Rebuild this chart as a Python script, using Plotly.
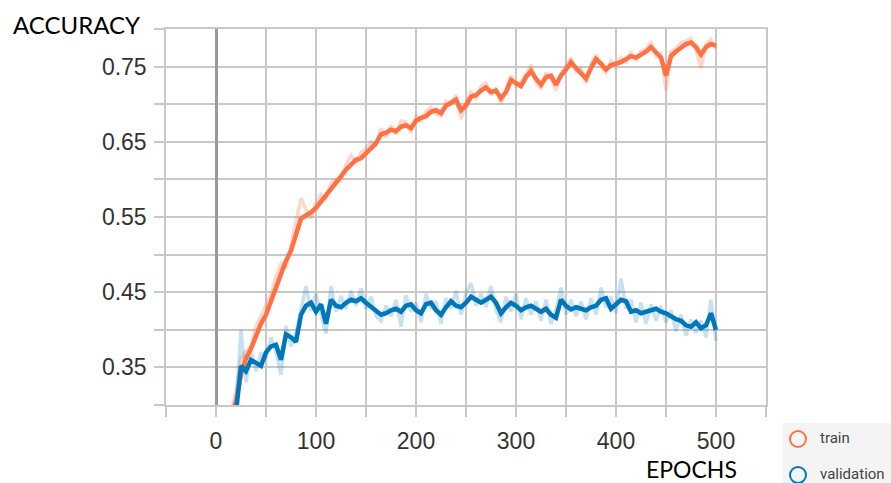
import plotly.graph_objects as go

# ---- data ----
train_epochs = list(range(15, 501, 5))
train_smooth = [0.285, 0.305, 0.340, 0.362, 0.375, 0.392, 0.408, 0.420, 0.438, 0.455,
                0.476, 0.492, 0.505, 0.525, 0.548, 0.552, 0.556, 0.562, 0.570, 0.578,
                0.586, 0.596, 0.604, 0.613, 0.620, 0.626, 0.628, 0.634, 0.642, 0.648,
                0.660, 0.662, 0.666, 0.664, 0.670, 0.672, 0.668, 0.678, 0.682, 0.684,
                0.690, 0.692, 0.688, 0.698, 0.702, 0.706, 0.692, 0.698, 0.710, 0.712,
                0.718, 0.722, 0.716, 0.718, 0.708, 0.716, 0.732, 0.728, 0.724, 0.736,
                0.744, 0.734, 0.726, 0.736, 0.738, 0.726, 0.738, 0.746, 0.756, 0.748,
                0.742, 0.734, 0.748, 0.760, 0.754, 0.746, 0.752, 0.754, 0.756, 0.760,
                0.764, 0.762, 0.766, 0.770, 0.776, 0.768, 0.762, 0.738, 0.764, 0.770,
                0.776, 0.780, 0.782, 0.776, 0.766, 0.776, 0.780, 0.778]
train_raw = [0.290, 0.318, 0.362, 0.372, 0.378, 0.405, 0.418, 0.432, 0.448, 0.470,
             0.488, 0.482, 0.512, 0.540, 0.575, 0.560, 0.548, 0.568, 0.580, 0.574,
             0.595, 0.600, 0.598, 0.620, 0.632, 0.622, 0.636, 0.640, 0.650, 0.646,
             0.668, 0.656, 0.672, 0.660, 0.678, 0.676, 0.662, 0.684, 0.678, 0.690,
             0.696, 0.688, 0.684, 0.704, 0.700, 0.712, 0.680, 0.702, 0.716, 0.708,
             0.724, 0.728, 0.712, 0.722, 0.700, 0.720, 0.738, 0.724, 0.730, 0.740,
             0.752, 0.730, 0.720, 0.742, 0.734, 0.718, 0.742, 0.752, 0.762, 0.744,
             0.748, 0.728, 0.754, 0.766, 0.750, 0.742, 0.758, 0.750, 0.762, 0.756,
             0.770, 0.758, 0.770, 0.774, 0.782, 0.764, 0.768, 0.718, 0.770, 0.774,
             0.782, 0.784, 0.788, 0.772, 0.748, 0.780, 0.786, 0.774]

val_epochs = list(range(20, 501, 5))
val_smooth = [0.290, 0.352, 0.345, 0.360, 0.356, 0.352, 0.370, 0.378, 0.380, 0.360,
              0.394, 0.390, 0.384, 0.420, 0.432, 0.436, 0.424, 0.434, 0.408, 0.440,
              0.432, 0.430, 0.436, 0.440, 0.438, 0.442, 0.436, 0.430, 0.426, 0.420,
              0.422, 0.426, 0.428, 0.424, 0.432, 0.434, 0.426, 0.422, 0.434, 0.436,
              0.426, 0.420, 0.430, 0.438, 0.432, 0.430, 0.436, 0.444, 0.440, 0.436,
              0.440, 0.444, 0.436, 0.422, 0.430, 0.436, 0.432, 0.426, 0.430, 0.432,
              0.428, 0.424, 0.428, 0.420, 0.416, 0.440, 0.432, 0.427, 0.430, 0.428,
              0.426, 0.430, 0.432, 0.440, 0.442, 0.428, 0.434, 0.440, 0.438, 0.424,
              0.426, 0.422, 0.424, 0.426, 0.428, 0.424, 0.422, 0.418, 0.414, 0.412,
              0.406, 0.404, 0.410, 0.402, 0.406, 0.422, 0.400]
val_raw = [0.300, 0.400, 0.330, 0.372, 0.345, 0.370, 0.362, 0.390, 0.370, 0.340,
           0.405, 0.378, 0.396, 0.430, 0.458, 0.425, 0.448, 0.420, 0.395, 0.458,
           0.424, 0.445, 0.428, 0.452, 0.432, 0.455, 0.428, 0.444, 0.418, 0.412,
           0.432, 0.418, 0.440, 0.404, 0.446, 0.424, 0.436, 0.410, 0.448, 0.428,
           0.438, 0.408, 0.442, 0.428, 0.452, 0.420, 0.448, 0.462, 0.432, 0.448,
           0.430, 0.458, 0.426, 0.410, 0.444, 0.424, 0.448, 0.414, 0.442, 0.420,
           0.438, 0.412, 0.440, 0.408, 0.426, 0.456, 0.420, 0.440, 0.418, 0.438,
           0.414, 0.442, 0.420, 0.456, 0.430, 0.444, 0.422, 0.468, 0.428, 0.440,
           0.410, 0.436, 0.408, 0.434, 0.412, 0.432, 0.410, 0.426, 0.398, 0.420,
           0.392, 0.414, 0.396, 0.412, 0.390, 0.440, 0.385]

x_tickvals = [-50, 0, 50, 100, 150, 200, 250, 300, 350, 400, 450, 500, 550]
x_ticktext = ["", "0", "", "100", "", "200", "", "300", "", "400", "", "500", ""]
y_tickvals = [0.30, 0.35, 0.40, 0.45, 0.50, 0.55, 0.60, 0.65, 0.70, 0.75, 0.80]
y_ticktext = ["", "0.35", "", "0.45", "", "0.55", "", "0.65", "", "0.75", ""]

ORANGE = "#ff7043"
BLUE = "#0077bb"
GRID = "#c8c8c8"

fig = go.Figure()
fig.add_trace(go.Scatter(x=train_epochs, y=train_raw, mode="lines",
                         line=dict(color="rgba(255,112,67,0.28)", width=3.5),
                         hoverinfo="skip", showlegend=False))
fig.add_trace(go.Scatter(x=val_epochs, y=val_raw, mode="lines",
                         line=dict(color="rgba(0,119,187,0.22)", width=3.5),
                         hoverinfo="skip", showlegend=False))
fig.add_trace(go.Scatter(x=train_epochs, y=train_smooth, mode="lines", name="train",
                         line=dict(color=ORANGE, width=4.5), showlegend=False))
fig.add_trace(go.Scatter(x=val_epochs, y=val_smooth, mode="lines", name="validation",
                         line=dict(color=BLUE, width=4.5), showlegend=False))

W, H = 891, 483
L, R, T, B = 166, 766, 29, 405          # plot area in window pixels
pw, ph = R - L, B - T


def px(xp):
    return (xp - L) / pw


def py(yp):
    return (B - yp) / ph


fig.update_layout(
    width=W, height=H,
    margin=dict(l=L, r=W - R, t=T, b=H - B),
    paper_bgcolor="white", plot_bgcolor="white",
    showlegend=False,
    xaxis=dict(range=[-50, 550], tickmode="array", tickvals=x_tickvals, ticktext=x_ticktext,
               showgrid=True, gridcolor=GRID, gridwidth=1.5,
               ticks="outside", ticklen=10, tickcolor=GRID, tickwidth=1.5,
               ticklabelstandoff=5,
               zeroline=True, zerolinecolor="#9a9a9a", zerolinewidth=3,
               showline=True, linecolor=GRID, linewidth=1.5, mirror=True,
               tickfont=dict(family="Liberation Sans, Arial, sans-serif", size=23, color="#333333")),
    yaxis=dict(range=[0.30, 0.80], tickmode="array", tickvals=y_tickvals, ticktext=y_ticktext,
               showgrid=True, gridcolor=GRID, gridwidth=1.5,
               ticks="outside", ticklen=10, tickcolor=GRID, tickwidth=1.5,
               ticklabelstandoff=3,
               zeroline=False,
               showline=True, linecolor=GRID, linewidth=1.5, mirror=True,
               tickfont=dict(family="Liberation Sans, Arial, sans-serif", size=23, color="#333333")),
)

# axis titles
fig.add_annotation(text="ACCURACY", xref="paper", yref="paper", x=px(11), y=py(8),
                   xanchor="left", yanchor="top", showarrow=False,
                   font=dict(family="Lato, sans-serif", size=24, color="#000000"))
fig.add_annotation(text="EPOCHS", xref="paper", yref="paper", x=px(739), y=py(453),
                   xanchor="right", yanchor="top", showarrow=False,
                   font=dict(family="Lato, sans-serif", size=23, color="#000000"))

# legend box
fig.add_shape(type="rect", xref="paper", yref="paper", x0=px(783), x1=px(900),
              y0=py(423), y1=py(490), fillcolor="#f4f4f4", line=dict(width=0), layer="below")
for yc, col, lab in [(439, ORANGE, "train"), (475, BLUE, "validation")]:
    fig.add_shape(type="circle", xref="paper", yref="paper",
                  xsizemode="pixel", ysizemode="pixel",
                  xanchor=px(798), yanchor=py(yc), x0=-8, x1=8, y0=-8, y1=8,
                  line=dict(color=col, width=2), fillcolor="rgba(0,0,0,0)")
    fig.add_annotation(text=lab, xref="paper", yref="paper", x=px(818), y=py(yc - 1),
                       xanchor="left", yanchor="middle", showarrow=False,
                       font=dict(family="Roboto, sans-serif", size=15, color="#444444"))

# remove the default page margin so the figure fills the window exactly
fig.write_html("out.html",
               config={"displayModeBar": False},
               post_script="document.body.style.margin='0';"
                           "document.body.style.overflow='hidden';"
                           "document.documentElement.style.overflow='hidden';")
